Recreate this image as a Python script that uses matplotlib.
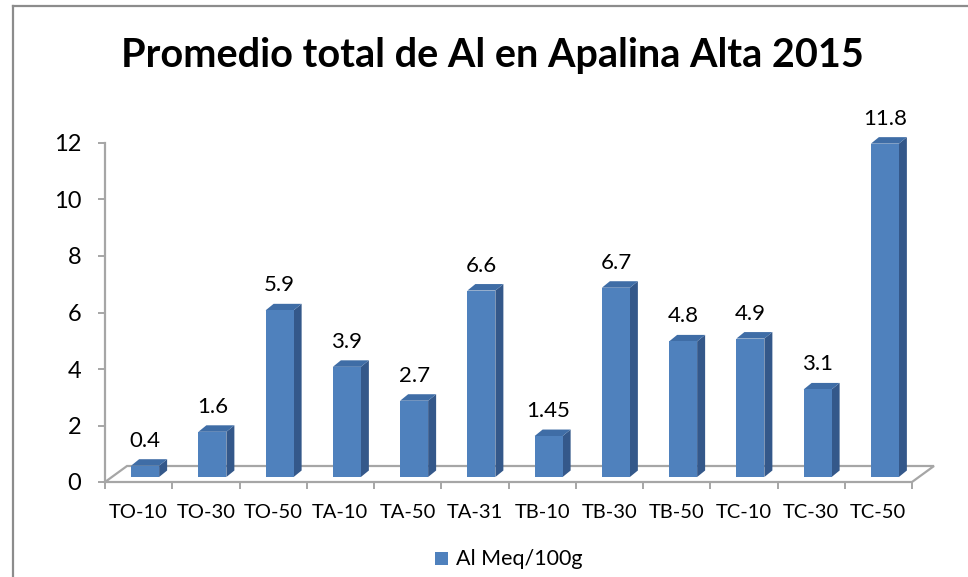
import matplotlib
matplotlib.use("Agg")
import matplotlib.pyplot as plt
from matplotlib.patches import Polygon, Rectangle
from matplotlib.lines import Line2D

categories = ["TO-10", "TO-30", "TO-50", "TA-10", "TA-50", "TA-31",
              "TB-10", "TB-30", "TB-50", "TC-10", "TC-30", "TC-50"]
values = [0.4, 1.6, 5.9, 3.9, 2.7, 6.6, 1.45, 6.7, 4.8, 4.9, 3.1, 11.8]
series_name = "Al Meq/100g"
title = "Promedio total de Al en Apalina Alta 2015"
yticks = [0, 2, 4, 6, 8, 10, 12]

FONT = ["Lato", "DejaVu Sans"]
plt.rcParams['font.family'] = FONT

W, H = 968, 577
fig = plt.figure(figsize=(W / 100, H / 100), dpi=100)

# plot area in pixels
x0, x1 = 105, 912
y0, y1 = 482, 143
ax = fig.add_axes([x0 / W, (H - y0) / H, (x1 - x0) / W, (y0 - y1) / H])
n = len(categories)
ax.set_xlim(-0.5, n - 0.5)
ax.set_ylim(0, 12)
ux = (x1 - x0) / n          # px per category
uy = (y0 - y1) / 12.0       # px per value unit

def px(dx):
    return dx / ux

def py(dy):
    return dy / uy

FRONT = "#4F81BD"
SIDE = "#34588A"
TOP = "#3F6DA6"
GRID = "#A6A6A6"

# floor
fdx, fdy = px(22), py(16)
floor = Polygon([(-0.5, 0), (n - 0.5, 0), (n - 0.5 + fdx, fdy), (-0.5 + fdx, fdy)],
                closed=True, facecolor="white", edgecolor=GRID, lw=1.6,
                clip_on=False, zorder=1)
ax.add_patch(floor)

# bars (pseudo 3D)
bw = px(28)
sx, sy = px(6.5), py(5)
ddx, ddy = px(8), py(6.5)
for i, v in enumerate(values):
    cx = i + sx
    left = cx - bw / 2
    right = cx + bw / 2
    b = sy
    t = sy + v
    ax.add_patch(Polygon([(right, b), (right + ddx, b + ddy), (right + ddx, t + ddy), (right, t)],
                         closed=True, facecolor=SIDE, edgecolor="none", clip_on=False, zorder=3))
    ax.add_patch(Polygon([(left, t), (right, t), (right + ddx, t + ddy), (left + ddx, t + ddy)],
                         closed=True, facecolor=TOP, edgecolor="none", clip_on=False, zorder=3))
    ax.add_patch(Rectangle((left, b), bw, v, facecolor=FRONT, edgecolor="none",
                           clip_on=False, zorder=4))
    ax.annotate(f"{v:g}", xy=(cx, t), xytext=(0, 19 * 0.72), textcoords="offset points",
                ha="center", va="baseline", fontsize=16, color="black",
                annotation_clip=False, zorder=5)

# axes styling
for s in ["top", "right", "bottom"]:
    ax.spines[s].set_visible(False)
ax.spines["left"].set_color(GRID)
ax.spines["left"].set_linewidth(1.6)
ax.set_yticks(yticks)
ax.set_yticklabels([str(t) for t in yticks], fontsize=17)
ax.tick_params(axis="y", length=5, width=1.4, color=GRID, pad=12)
ax.set_xticks(range(n))
ax.set_xticklabels(categories, fontsize=14.5)
ax.tick_params(axis="x", which="major", length=0, pad=16)
ax.set_xticks([i - 0.5 for i in range(n + 1)], minor=True)
ax.tick_params(axis="x", which="minor", length=5, width=1.4, color=GRID)
ax.patch.set_alpha(0)

# title
fig.text(492 / W, 1 - 67 / H, title, ha="center", va="baseline",
         fontsize=28.5, fontweight="bold", color="black")

# legend
fig.add_artist(Rectangle((435 / W, 1 - 565 / H), 13 / W, 13 / H,
                         transform=fig.transFigure, facecolor=FRONT, edgecolor="none"))
fig.text(456 / W, 1 - 565 / H, series_name, ha="left", va="baseline", fontsize=15.5)

# outer border
fig.add_artist(Line2D([13 / W, 13 / W], [0, 1 - 6 / H], transform=fig.transFigure,
                      color="#8C8C8C", lw=1.6))
fig.add_artist(Line2D([13 / W, 1], [1 - 6 / H, 1 - 6 / H], transform=fig.transFigure,
                      color="#8C8C8C", lw=1.6))

fig.savefig("out.png", dpi=100)
